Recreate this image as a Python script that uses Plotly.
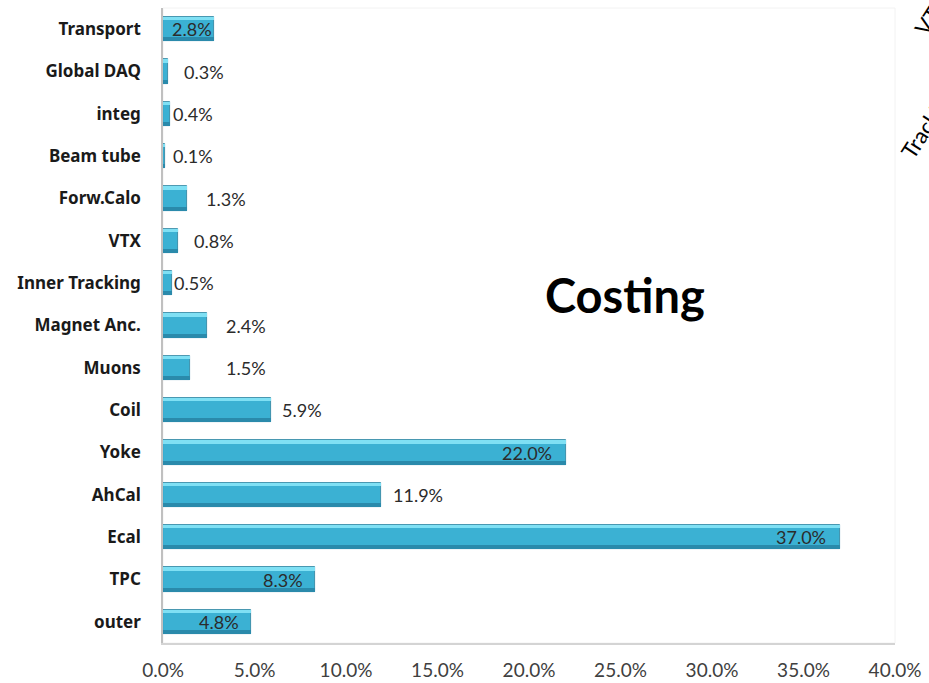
import plotly.graph_objects as go

# Cost share per subsystem, listed bottom to top as drawn on the category axis
categories = ["outer", "TPC", "Ecal", "AhCal", "Yoke", "Coil", "Muons", "Magnet Anc.",
              "Inner Tracking", "VTX", "Forw.Calo", "Beam tube", "integ", "Global DAQ", "Transport"]
shares = [4.8, 8.3, 37.0, 11.9, 22.0, 5.9, 1.5, 2.4, 0.5, 0.8, 1.3, 0.1, 0.4, 0.3, 2.8]
x_ticks = [0, 5, 10, 15, 20, 25, 30, 35, 40]

# Label placement: inside (right-aligned in bar) or outside with a pixel gap
label_inside = [True, True, True, False, True, False, False, False,
                False, False, False, False, False, False, True]
label_gap = [-10, -10, -12, 10, -12, 9, 34, 17, 0, 14, 17, 6, 1, 14, 0]

BAR_W = 0.57
FONT = "Lato"

fig = go.Figure()
# main bar body
fig.add_trace(go.Bar(
    y=categories, x=shares, orientation="h", width=BAR_W,
    marker=dict(color="#3bb1d3", line=dict(color="#2a7f9a", width=0.8)),
    hoverinfo="skip", showlegend=False,
))
# darker lower edge for the bevelled look
fig.add_trace(go.Bar(
    y=categories, x=shares, orientation="h", width=0.09, offset=-BAR_W / 2,
    marker=dict(color="#2a8aab", line=dict(width=0)),
    hoverinfo="skip", showlegend=False,
))
# light upper edge highlight
fig.add_trace(go.Bar(
    y=categories, x=shares, orientation="h", width=0.08, offset=BAR_W / 2 - 0.08,
    marker=dict(color="#7fe0f4", line=dict(width=0)),
    hoverinfo="skip", showlegend=False,
))

annotations = []
for cat, val, inside, gap in zip(categories, shares, label_inside, label_gap):
    annotations.append(dict(
        x=val, y=cat, xref="x", yref="y", text=f"{val:.1f}%", showarrow=False,
        xanchor="right" if inside else "left", yanchor="middle", xshift=gap,
        font=dict(family=FONT, size=18, color="#2b2b2b"),
    ))

annotations.append(dict(
    x=0.631, y=0.548, xref="paper", yref="paper", text="<b>Costing</b>", showarrow=False,
    xanchor="center", yanchor="middle", font=dict(family=FONT, size=47, color="#000000"),
))
# rotated slide captions running off the right edge
annotations.append(dict(
    x=1.045, y=0.82, xref="paper", yref="paper", text="Tracking", showarrow=False,
    textangle=-57, xanchor="center", yanchor="middle",
    font=dict(family=FONT, size=22, color="#000000"),
))
annotations.append(dict(
    x=1.05, y=0.99, xref="paper", yref="paper", text="VTX", showarrow=False,
    textangle=-57, xanchor="center", yanchor="middle",
    font=dict(family=FONT, size=22, color="#000000"),
))

fig.update_layout(
    width=929, height=683,
    margin=dict(l=163, r=34, t=8, b=40, autoexpand=False),
    paper_bgcolor="white", plot_bgcolor="white",
    barmode="overlay", bargap=0,
    annotations=annotations,
    xaxis=dict(
        range=[0, 40], tickvals=x_ticks, ticktext=[f"{t:.1f}%" for t in x_ticks],
        showgrid=False, zeroline=False, showline=True, linecolor="#d4d4d4", linewidth=1.5,
        mirror=False, ticks="", ticklabelstandoff=9, automargin=False,
        tickfont=dict(family=FONT, size=19, color="#404040"),
    ),
    yaxis=dict(
        categoryorder="array", categoryarray=categories,
        showgrid=False, zeroline=False, showline=True, linecolor="#c0c0c0", linewidth=1.5,
        ticks="", ticklabelstandoff=17, automargin=False,
        tickfont=dict(family="Noto Sans", size=17, color="#1a1a1a", weight="bold"),
    ),
    shapes=[dict(type="rect", xref="paper", yref="paper", x0=0, x1=1, y0=0, y1=1,
                 line=dict(color="#f2f2f2", width=1), layer="below")],
)

fig.write_html("out.html")
